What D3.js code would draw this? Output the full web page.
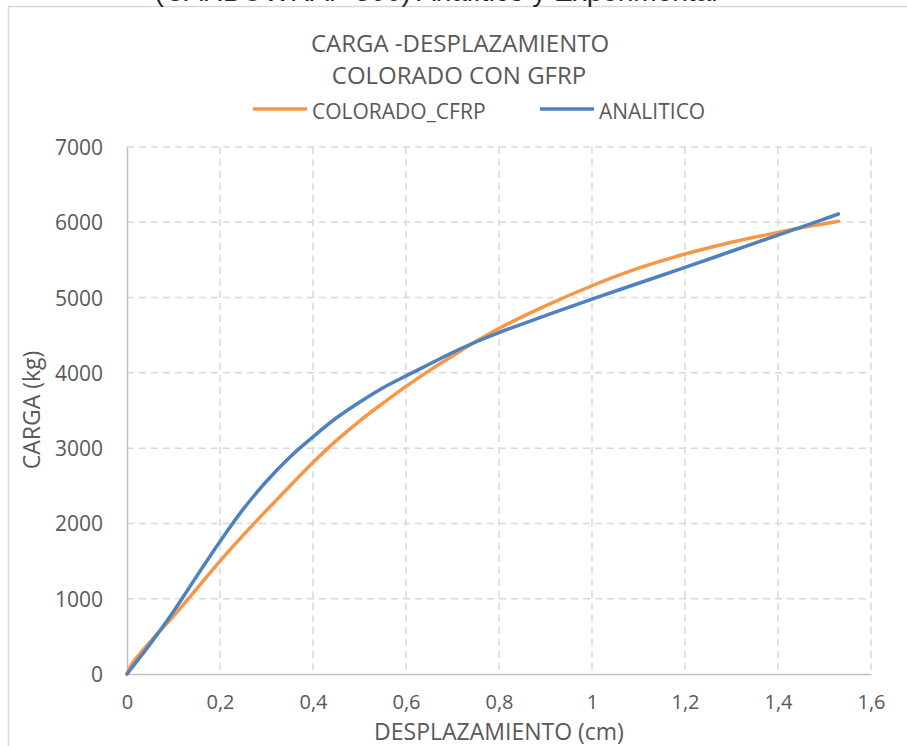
<!DOCTYPE html>
<html>
<head>
<meta charset="utf-8">
<script src="https://cdn.jsdelivr.net/npm/d3@7"></script>
<style>
  body { margin: 0; background: #fff; }
  text { font-family: "Open Sans", sans-serif; fill: #595959; }
</style>
</head>
<body>
<div class="chart"></div>
<script>
// data
var despExp = [0, 0.01, 0.02, 0.05, 0.1, 0.132, 0.2, 0.272, 0.35, 0.4, 0.45, 0.5, 0.55, 0.6, 0.65, 0.7, 0.75, 0.8, 0.9, 1.0, 1.1, 1.2, 1.3, 1.4, 1.447, 1.53];
var cargaExp = [0, 130, 210, 430, 770, 1000, 1500, 1990, 2495, 2810, 3100, 3360, 3595, 3820, 4030, 4225, 4415, 4590, 4890, 5157, 5390, 5578, 5735, 5865, 5925, 6015];

var despAna = [0, 0.05, 0.1, 0.15, 0.2, 0.25, 0.3, 0.35, 0.4, 0.45, 0.5, 0.55, 0.6, 0.65, 0.7, 0.75, 0.8, 0.9, 1.0, 1.1, 1.2, 1.3, 1.4, 1.447, 1.53];
var cargaAna = [0, 400, 830, 1300, 1760, 2190, 2560, 2880, 3150, 3400, 3610, 3800, 3960, 4115, 4270, 4410, 4535, 4760, 4980, 5190, 5400, 5615, 5830, 5930, 6110];

var xTicks = [0, 0.2, 0.4, 0.6, 0.8, 1, 1.2, 1.4, 1.6];
var yTicks = [0, 1000, 2000, 3000, 4000, 5000, 6000, 7000];

var seriesNames = ["COLORADO_CFRP", "ANALITICO"];
var seriesColors = ["#f79646", "#4f81bd"];

var W = 907, H = 746;
var margin = { top: 147, right: 36, bottom: 72, left: 127 },
    width = W - margin.left - margin.right,
    height = H - margin.top - margin.bottom;

var x = d3.scaleLinear().domain([0, 1.6]).range([0, width]);
var y = d3.scaleLinear().domain([0, 7000]).range([height, 0]);

var root = d3.select(".chart")
    .append("svg")
    .attr("width", W)
    .attr("height", H);

// outer chart border (runs off right / bottom)
root.append("rect")
    .attr("x", 8.5)
    .attr("y", 6.5)
    .attr("width", 920)
    .attr("height", 760)
    .attr("fill", "none")
    .attr("stroke", "#d9d9d9")
    .attr("stroke-width", 1.5);

// clipped heading above the chart
root.append("text")
    .attr("x", 436)
    .attr("y", 1)
    .attr("text-anchor", "middle")
    .style("font-family", "'Liberation Sans', Arial, sans-serif")
    .style("font-size", "28px")
    .style("fill", "#262626")
    .text("(CARBOWRAP 300) Analítico y Experimental");

// title
root.append("text")
    .attr("x", 460)
    .attr("y", 52)
    .attr("text-anchor", "middle")
    .style("font-size", "24px")
    .text("CARGA -DESPLAZAMIENTO");
root.append("text")
    .attr("x", 459)
    .attr("y", 84)
    .attr("text-anchor", "middle")
    .style("font-size", "24px")
    .text("COLORADO CON GFRP");

// legend
var legendX = [253, 540];
seriesNames.forEach(function (name, i) {
    root.append("line")
        .attr("x1", legendX[i])
        .attr("x2", legendX[i] + 54)
        .attr("y1", 109)
        .attr("y2", 109)
        .attr("stroke", seriesColors[i])
        .attr("stroke-width", 3.5);
    root.append("text")
        .attr("x", legendX[i] + 59)
        .attr("y", 119)
        .style("font-size", "21px")
        .text(name);
});

var svg = root.append("g")
    .attr("transform", "translate(" + margin.left + "," + margin.top + ")");

// dashed grid
svg.selectAll(".hgrid")
    .data(yTicks.slice(1))
    .enter().append("line")
    .attr("x1", 0)
    .attr("x2", width)
    .attr("y1", function (d) { return y(d); })
    .attr("y2", function (d) { return y(d); })
    .attr("stroke", "#d9d9d9")
    .attr("stroke-width", 1.5)
    .attr("stroke-dasharray", "7,5");

svg.selectAll(".vgrid")
    .data(xTicks.slice(1))
    .enter().append("line")
    .attr("x1", function (d) { return x(d); })
    .attr("x2", function (d) { return x(d); })
    .attr("y1", 0)
    .attr("y2", height)
    .attr("stroke", "#d9d9d9")
    .attr("stroke-width", 1.5)
    .attr("stroke-dasharray", "7,5");

// axes
var fmtX = function (d) { return String(d).replace(".", ","); };

var xAxis = svg.append("g")
    .attr("transform", "translate(0," + height + ")")
    .call(d3.axisBottom(x).tickValues(xTicks).tickFormat(fmtX).tickSize(0).tickPadding(21));
xAxis.select(".domain").attr("stroke", "#bfbfbf").attr("stroke-width", 1.5);
xAxis.selectAll("text")
    .attr("dy", "0.71em")
    .style("font-family", "'Open Sans', sans-serif")
    .style("font-size", "20px")
    .style("fill", "#595959");

var yAxis = svg.append("g")
    .call(d3.axisLeft(y).tickValues(yTicks).tickFormat(d3.format("d")).tickSize(0).tickPadding(24));
yAxis.select(".domain").attr("stroke", "#bfbfbf").attr("stroke-width", 1.5);
yAxis.selectAll("text")
    .attr("dy", "0.36em")
    .style("font-family", "'Open Sans', sans-serif")
    .style("font-size", "21px")
    .style("fill", "#595959");

// axis titles
root.append("text")
    .attr("x", 499)
    .attr("y", 740)
    .attr("text-anchor", "middle")
    .style("font-size", "23px")
    .text("DESPLAZAMIENTO (cm)");

root.append("text")
    .attr("transform", "translate(40,410) rotate(-90)")
    .attr("text-anchor", "middle")
    .style("font-size", "23px")
    .text("CARGA (kg)");

// lines
var line = d3.line()
    .x(function (d) { return x(d[0]); })
    .y(function (d) { return y(d[1]); })
    .curve(d3.curveCatmullRom.alpha(0.5));

var series = [d3.zip(despExp, cargaExp), d3.zip(despAna, cargaAna)];

svg.selectAll(".serie")
    .data(series)
    .enter().append("path")
    .attr("class", "serie")
    .attr("d", line)
    .attr("fill", "none")
    .attr("stroke", function (d, i) { return seriesColors[i]; })
    .attr("stroke-width", 3.5)
    .attr("stroke-linecap", "round")
    .attr("stroke-linejoin", "round");
</script>
</body>
</html>
